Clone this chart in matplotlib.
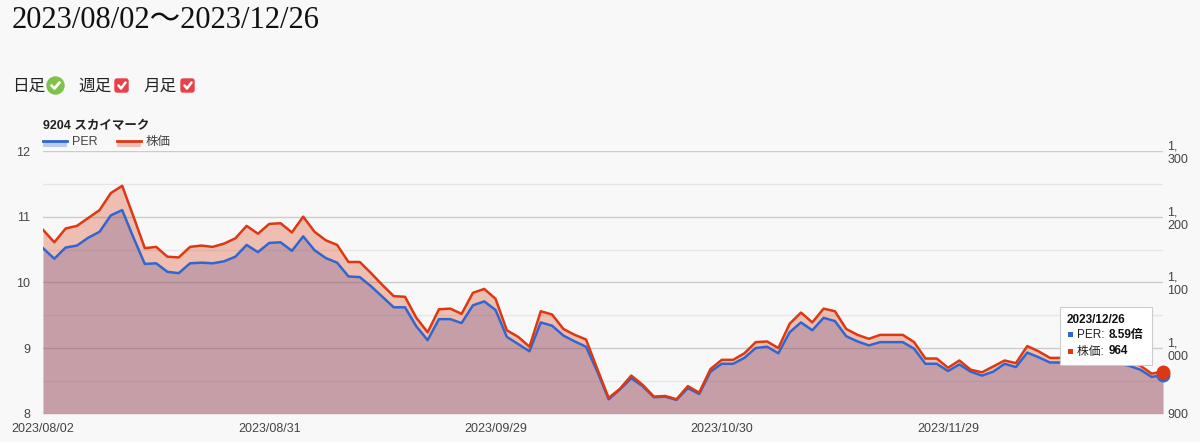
import numpy as np
import matplotlib
matplotlib.use("Agg")
import matplotlib.pyplot as plt
import matplotlib.patches as patches

plt.rcParams['font.family'] = ['Liberation Sans', 'Noto Sans CJK JP']

# データ (2023/08/02〜2023/12/26 の営業日)
per = [10.52, 10.36, 10.53, 10.56, 10.68, 10.77, 11.02, 11.10, 10.68, 10.28,
       10.29, 10.16, 10.14, 10.29, 10.30, 10.29, 10.32, 10.39, 10.57, 10.46,
       10.60, 10.61, 10.48, 10.70, 10.49, 10.37, 10.30, 10.09, 10.08, 9.94,
       9.78, 9.62, 9.62, 9.33, 9.12, 9.44, 9.44, 9.38, 9.65, 9.71,
       9.58, 9.17, 9.06, 8.95, 9.39, 9.34, 9.19, 9.10, 9.02, 8.64,
       8.22, 8.37, 8.54, 8.42, 8.25, 8.26, 8.21, 8.39, 8.30, 8.64,
       8.76, 8.76, 8.85, 9.00, 9.02, 8.92, 9.24, 9.39, 9.27, 9.46,
       9.41, 9.18, 9.10, 9.04, 9.09, 9.09, 9.09, 8.99, 8.76, 8.76,
       8.65, 8.75, 8.64, 8.58, 8.64, 8.76, 8.71, 8.93, 8.86, 8.78,
       8.78, 8.79, 8.77, 8.78, 8.79, 8.77, 8.73, 8.67, 8.56, 8.59]
kabuka = [1180, 1161, 1182, 1186, 1198, 1210, 1236, 1247, 1200, 1152,
          1154, 1139, 1138, 1154, 1156, 1154, 1159, 1167, 1186, 1174,
          1189, 1190, 1176, 1200, 1177, 1164, 1157, 1131, 1131, 1114,
          1096, 1079, 1078, 1046, 1024, 1059, 1060, 1052, 1084, 1090,
          1075, 1027, 1017, 1002, 1056, 1051, 1029, 1020, 1013, 968,
          924, 938, 958, 944, 926, 927, 922, 942, 932, 968,
          982, 982, 992, 1009, 1010, 1000, 1037, 1054, 1039, 1060,
          1056, 1029, 1020, 1014, 1020, 1020, 1020, 1009, 984, 984,
          970, 981, 967, 963, 972, 981, 977, 1003, 995, 985,
          985, 986, 984, 985, 986, 984, 980, 973, 961, 964]
x_labels = ["2023/08/02", "2023/08/31", "2023/09/29", "2023/10/30", "2023/11/29"]
left_ticks = [8, 9, 10, 11, 12]
right_ticks = [900, 1000, 1100, 1200, 1300]
right_labels = ["900", "1,\n000", "1,\n100", "1,\n200", "1,\n300"]

ao = '#3366cc'
aka = '#dc3912'
haikei = '#f8f8f8'
moji = '#444444'

fig = plt.figure(figsize=(12, 4.42), dpi=100, facecolor=haikei)
pos = [43 / 1200, 28.3 / 442, 1120 / 1200, 262.7 / 442]
x = np.arange(len(per))

# 左軸 (PER)
ax = fig.add_axes(pos)
ax.set_facecolor(haikei)
ax.set_xlim(0, len(per) - 1)
ax.set_ylim(8, 12)
ax.set_yticks(left_ticks)
ax.set_yticks(np.arange(8.5, 12, 1), minor=True)
ax.grid(axis='y', which='major', color='#cccccc', lw=1)
ax.grid(axis='y', which='minor', color='#e6e6e6', lw=1)
ax.set_axisbelow(True)
ax.set_xticks(range(0, len(per), 20))
ax.set_xticklabels(x_labels)
ax.tick_params(axis='both', which='both', length=0, labelsize=9, labelcolor=moji)
ax.tick_params(axis='y', pad=9)
ax.tick_params(axis='x', pad=7)
for s in ax.spines.values():
    s.set_visible(False)
ax.fill_between(x, per, 8, color=ao, alpha=0.3, lw=0)

# 右軸 (株価)
ax2 = ax.twinx()
ax2.set_ylim(900, 1300)
ax2.set_yticks(right_ticks)
ax2.set_yticklabels(right_labels, linespacing=1.15, ha='left')
ax2.tick_params(axis='y', length=0, labelsize=9, labelcolor=moji, pad=3)
for s in ax2.spines.values():
    s.set_visible(False)
ax2.fill_between(x, kabuka, 900, color=aka, alpha=0.3, lw=0)

# 線は塗りの上に
ax3 = fig.add_axes(pos, sharex=ax, sharey=ax)
ax3.patch.set_visible(False)
ax3.axis('off')
ax3.plot(x, per, color=ao, lw=1.8)
ax3.plot(x[-1], per[-1], 'o', color=ao, ms=9, clip_on=False)

ax4 = fig.add_axes(pos, sharex=ax, sharey=ax2)
ax4.patch.set_visible(False)
ax4.axis('off')
ax4.plot(x, kabuka, color=aka, lw=1.8)
ax4.plot(x[-1], kabuka[-1], 'o', color=aka, ms=9, clip_on=False)

# ピクセル座標のオーバーレイ
ov = fig.add_axes([0, 0, 1, 1])
ov.set_xlim(0, 1200)
ov.set_ylim(442, 0)
ov.axis('off')
ov.patch.set_visible(False)

ov.text(12, 21, "2023/08/02〜2023/12/26", fontsize=22, va='center', ha='left',
        family=['Liberation Serif', 'Noto Sans CJK JP'], color='#111111')

# 日足・週足・月足
ov.text(12, 86, "日足", fontsize=12, va='center', ha='left', color='#222222')
ov.text(78, 86, "週足", fontsize=12, va='center', ha='left', color='#222222')
ov.text(143, 86, "月足", fontsize=12, va='center', ha='left', color='#222222')
ov.add_patch(patches.Circle((55.5, 85.5), 8.5, color='#7dc24b'))
ov.plot([51.5, 54.5, 59.5], [85.5, 88.5, 82.5], color='white', lw=2, solid_capstyle='round')
for sx in [114, 180]:
    ov.add_patch(patches.FancyBboxPatch((sx + 1, 79), 13, 13, boxstyle='round,pad=0,rounding_size=2',
                                        color='#e8414a'))
    ov.plot([sx + 4.5, sx + 7, sx + 11.5], [85.5, 88.5, 82.5], color='white', lw=1.8,
            solid_capstyle='round')

# グラフタイトル・凡例
ov.text(43, 126, "9204 スカイマーク", fontsize=9, fontweight='bold', va='center', color='#222222')
for lx, col, lab, tx in [(43, ao, "PER", 72), (117, aka, "株価", 146)]:
    ov.add_patch(patches.Rectangle((lx, 141), 24, 6, color=col, alpha=0.3, lw=0))
    ov.plot([lx, lx + 24], [141, 141], color=col, lw=2)
    ov.text(tx, 142, lab, fontsize=9, va='center', color=moji)

# ツールチップ
ov.add_patch(patches.Rectangle((1061, 308), 92, 58, facecolor='#bbbbbb', alpha=0.5, lw=0))
ov.add_patch(patches.Rectangle((1060, 307), 92, 58, facecolor='white', edgecolor='#cccccc', lw=0.8))
ov.text(1067, 320, "2023/12/26", fontsize=8.5, fontweight='bold', va='center', color='#111111')
ov.add_patch(patches.Rectangle((1067.5, 332), 5, 5, color=ao, lw=0))
ov.add_patch(patches.Rectangle((1067.5, 348.5), 5, 5, color=aka, lw=0))
ov.text(1077, 335, "PER: ", fontsize=8.5, va='center', color='#222222')
ov.text(1109, 335, f"{per[-1]:.2f}倍", fontsize=8.5, fontweight='bold', va='center', color='#111111')
ov.text(1077, 351.5, "株価: ", fontsize=8.5, va='center', color='#222222')
ov.text(1109, 351.5, f"{kabuka[-1]}", fontsize=8.5, fontweight='bold', va='center', color='#111111')

fig.savefig("out.png", dpi=100, facecolor=haikei)
